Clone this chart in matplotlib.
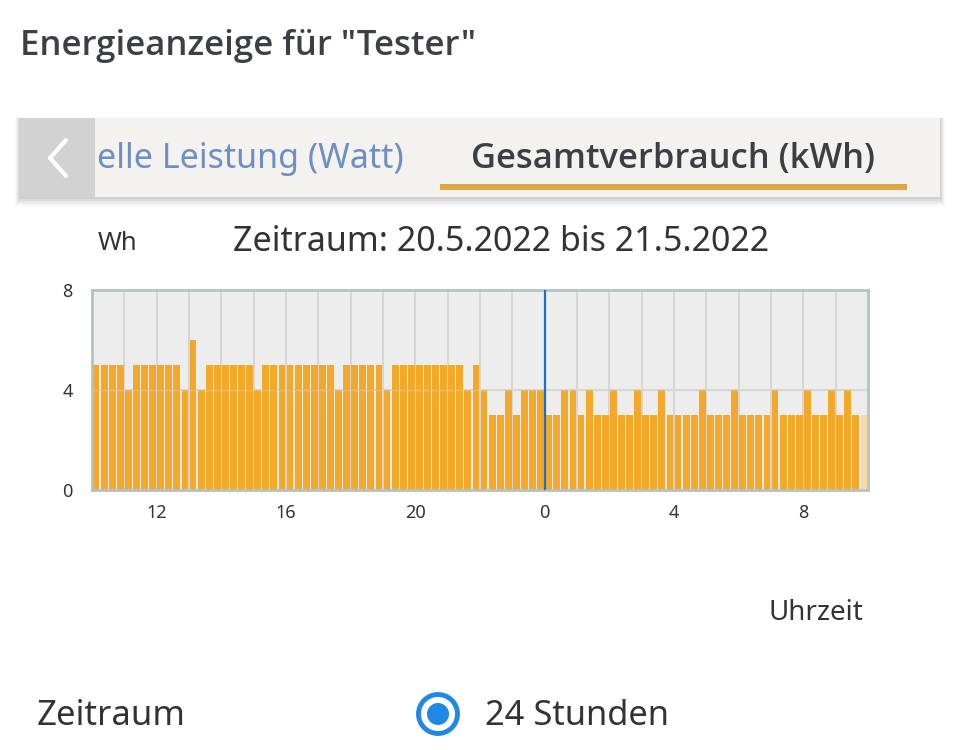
import matplotlib
matplotlib.use('Agg')
from matplotlib import pyplot as plt
from matplotlib.patches import Rectangle, Circle

plt.rcParams['font.family'] = ['Noto Sans', 'DejaVu Sans']
BOLD = ['Open Sans', 'Lato', 'DejaVu Sans']

# 15-minute consumption in Wh, 20.5.2022 10:00 -> 21.5.2022 10:00
values = [5, 5, 5, 5, 4, 5, 5, 5, 5, 5, 5, 4, 6, 4, 5, 5, 5, 5, 5, 5, 4, 5, 5, 5, 5, 5, 5, 5,
          5, 5, 4, 5, 5, 5, 5, 5, 4, 5, 5, 5, 5, 5, 5, 5, 5, 5, 4, 5, 4, 3, 3, 4, 3, 4, 4, 4,
          3, 3, 4, 4, 3, 4, 3, 3, 4, 3, 3, 4, 3, 3, 4, 3, 3, 3, 3, 4, 3, 3, 3, 4, 3, 3, 3, 3,
          4, 3, 3, 3, 4, 3, 3, 4, 3, 4, 3, 3]
start_hour = 10
tick_hours = [12, 16, 20, 24, 28, 32]
tick_labels = ['12', '16', '20', '0', '4', '8']
y_ticks = [0, 4, 8]

fig = plt.figure(figsize=(9.6, 7.5), dpi=100)
fig.patch.set_facecolor('white')

# overlay in pixel coordinates for the app chrome
bg = fig.add_axes([0, 0, 1, 1])
bg.set_xlim(0, 960)
bg.set_ylim(750, 0)
bg.axis('off')

bg.text(20, 46, 'Energieanzeige für "Tester"', fontsize=25, fontweight=600, family=BOLD,
        color='#3c4046', va='center', ha='left')

# tab bar with soft shadow
for i, a in enumerate([0.05, 0.05, 0.04, 0.03, 0.02]):
    d = i * 2 + 2
    bg.add_patch(Rectangle((20 - d / 2, 118), 920 + d, 79 + d, color='black', alpha=a, lw=0))
bg.add_patch(Rectangle((20, 118), 920, 79, color='#f3f2ee', lw=0))
bg.add_patch(Rectangle((20, 118), 75, 79, color='#d2d2d2', lw=0))
bg.plot([66, 50, 66], [140, 158, 176], color='white', lw=3, solid_capstyle='round')
bg.text(97, 159, 'elle Leistung (Watt)', fontsize=24.5, color='#6e8fc0', va='center', ha='left')
bg.text(673, 159, 'Gesamtverbrauch (kWh)', fontsize=24.8, fontweight=600, family=BOLD,
        color='#3a3f45', va='center', ha='center')
bg.add_patch(Rectangle((440, 184), 467, 6, color='#dca640', lw=0))

bg.text(118, 244, 'Wh', fontsize=18.5, color='#333333', va='center', ha='center')
bg.text(501, 242, 'Zeitraum: 20.5.2022 bis 21.5.2022', fontsize=24.5, color='#333333',
        va='center', ha='center')
bg.text(816, 613, 'Uhrzeit', fontsize=20, color='#333333', va='center', ha='center')

bg.text(37, 716, 'Zeitraum', fontsize=25, color='#333333', va='center', ha='left')
bg.add_patch(Circle((438, 714), 19.5, fill=False, ec='#1e88e5', lw=3.5))
bg.add_patch(Circle((438, 714), 11, color='#1e88e5', lw=0))
bg.text(485, 716, '24 Stunden', fontsize=24.8, color='#333333', va='center', ha='left')

# chart
ax = fig.add_axes([92 / 960, 1 - 490 / 750, 776 / 960, 200 / 750])
ax.set_facecolor('#ededed')

x = [start_hour + i * 0.25 for i in range(len(values))]
colors = ['#f4a82a'] * (len(values) - 1) + ['#f7d9a3']
ax.bar([xi + 0.02 for xi in x], values, width=0.21, align='edge', color=colors, lw=0, zorder=2)

for h in range(start_hour + 1, start_hour + 24):
    ax.axvline(h, color='#d6d6d6', lw=1.5, zorder=1)
ax.axhline(4, color='#d6d6d6', lw=1.5, zorder=1)
ax.axhline(4, color='#d6d6d6', lw=1, alpha=0.35, zorder=3)
ax.axvline(24, color='#1c6fc4', lw=1.6, zorder=4)

ax.set_xlim(start_hour, start_hour + 24)
ax.set_ylim(0, 8)
ax.set_xticks(tick_hours)
ax.set_xticklabels(tick_labels)
ax.set_yticks(y_ticks)
ax.tick_params(length=0, labelsize=13, labelcolor='#333333', pad=10)
ax.tick_params(axis='y', pad=14)
for s in ax.spines.values():
    s.set_color('#b4c2c4')
    s.set_linewidth(2)

fig.savefig('out.png', dpi=100)
